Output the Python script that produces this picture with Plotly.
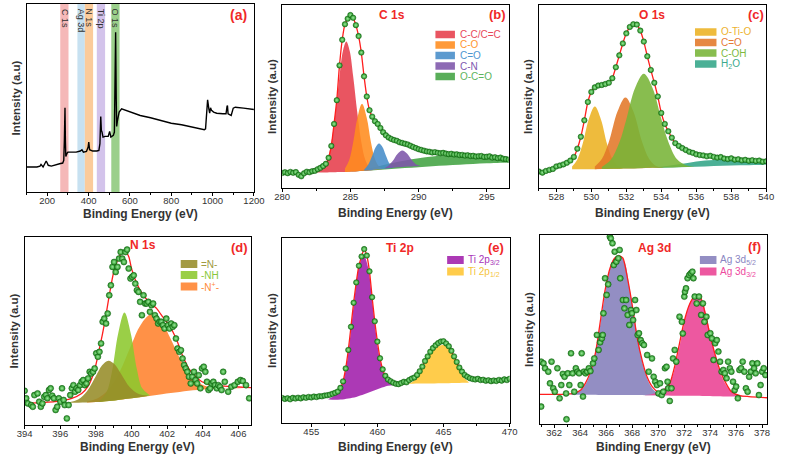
import plotly.graph_objects as go

W, H = 787, 455

# ---------------- (a) survey ----------------
survey_be = [100,150,165,170,180,190,195,200,205,220,240,260,275,280,283,286,288,290,295,300,320,340,360,368,375,390,398,401,405,420,440,450,455,459,462,465,470,480,495,502,508,520,525,528,531,534,536,540,548,560,580,600,650,700,750,800,850,900,940,960,966,972,976,982,986,990,995,1005,1020,1050,1065,1070,1072,1075,1090,1100,1110,1150,1180,1200]
survey_int = [13.3,13.3,13.8,14.7,13.3,15.0,16.5,15.4,14.2,13.8,14.2,15.0,15.4,16.8,27.4,44.8,27.4,18.9,20.4,21.2,21.2,21.2,21.8,22.5,21.2,21.6,23.9,26.5,22.5,21.8,21.8,22.1,25.7,40.2,32.7,31.9,29.2,29.6,29.6,32.2,29.2,30.1,31.9,48.7,85.0,48.7,34.9,38.1,42.5,44.2,43.4,42.5,40.7,39.5,38.1,36.6,35.8,34.5,33.6,33.1,33.6,43.4,49.0,44.2,41.9,44.8,43.4,42.5,41.9,41.6,41.6,45.5,46.0,41.6,40.7,44.6,45.1,44.6,44.2,43.9]
band_names = ["C 1s", "Ag 3d", "N 1s", "Ti 2p", "O 1s"]
band_lo = [263, 346, 382, 440, 510]
band_hi = [303, 382, 422, 480, 550]
band_colors = ["rgba(242,160,160,0.75)", "rgba(185,218,238,0.8)", "rgba(250,190,130,0.8)",
               "rgba(200,180,230,0.8)", "rgba(130,195,110,0.8)"]

# ---------------- (b) C 1s ----------------
c1s_be = [280.0,280.2,280.4,280.6,280.8,281.0,281.2,281.4,281.6,281.8,282.0,282.2,282.4,282.6,282.8,283.0,283.2,283.4,283.6,283.8,284.0,284.2,284.4,284.6,284.8,285.0,285.2,285.4,285.6,285.8,286.0,286.2,286.4,286.6,286.8,287.0,287.2,287.4,287.6,287.8,288.0,288.2,288.4,288.6,288.8,289.0,289.2,289.4,289.6,289.8,290.0,290.2,290.4,290.6,290.8,291.0,291.2,291.4,291.6,291.8,292.0,292.2,292.4,292.6,292.8,293.0,293.2,293.4,293.6,293.8,294.0,294.2,294.4,294.6,294.8,295.0,295.2,295.4,295.6,295.8,296.0,296.2,296.4,296.6,296.8]
c1s_int = [8.2,8.6,8.1,8.8,8.3,8.7,7.2,6.4,8.0,8.9,8.6,9.2,9.4,10.3,11.0,12.0,13.2,16.5,23.0,35.0,48.0,67.0,81.0,89.5,92.5,94.5,93.0,89.0,83.0,74.0,61.0,50.0,42.5,39.0,36.5,35.0,32.8,30.5,28.8,27.6,26.8,26.2,25.8,25.0,24.6,24.2,23.8,23.1,22.4,21.8,21.2,20.8,20.4,20.0,19.8,19.4,19.6,19.2,19.0,19.2,18.8,18.5,18.7,18.3,18.4,18.0,18.1,17.7,17.9,17.5,17.6,17.2,17.4,17.5,17.0,17.1,17.3,16.6,16.8,16.3,16.6,16.0,15.8,15.5,15.4]
c1s_cc_be = [282.4,282.7,283.0,283.3,283.6,283.9,284.2,284.45,284.7,284.95,285.2,285.5,285.8,286.1,286.4,286.7]
c1s_cc_top = [8.6,9.2,10.6,15.1,24.9,41.3,61.1,74.8,80.0,74.8,61.2,41.5,25.2,15.3,11.3,9.9]
c1s_cc_base = [8.5,8.5,8.5,8.5,8.6,8.6,8.7,8.7,8.8,8.9,9.0,9.2,9.4,9.5,9.7,9.9]
c1s_co_be = [284.6,284.9,285.2,285.5,285.85,286.2,286.5,286.8,287.1,287.4]
c1s_co_top = [10.6,15.0,24.9,37.9,46.0,38.3,25.3,15.8,11.7,10.4]
c1s_co_base = [8.8,8.9,9.0,9.2,9.4,9.6,9.8,10.0,10.2,10.4]
c1s_cdo_be = [286.0,286.3,286.6,286.85,287.1,287.35,287.6,287.9,288.2]
c1s_cdo_top = [10.0,12.7,17.6,22.3,24.3,22.4,17.8,13.0,11.0]
c1s_cdo_base = [9.5,9.7,9.9,10.1,10.2,10.4,10.6,10.8,11.0]
c1s_cn_be = [287.5,287.8,288.1,288.45,288.8,289.15,289.5,289.8,290.1]
c1s_cn_top = [10.8,12.3,14.7,18.6,20.5,18.9,15.3,13.0,12.1]
c1s_cn_base = [10.7,10.9,11.1,11.3,11.5,11.7,11.8,11.9,12.0]
c1s_oco_be = [284.0,285.0,286.0,287.0,288.0,289.0,290.0,291.0,292.0,293.0,294.0,295.0,296.0,296.6]
c1s_oco_top = [8.6,9.2,10.3,11.8,13.5,15.0,16.3,17.2,17.7,17.9,17.6,17.1,16.4,15.9]
c1s_oco_base = [8.6,9.0,9.4,9.9,10.4,10.9,11.4,11.9,12.3,12.7,13.1,13.5,13.8,14.0]
c1s_names = ["C-C/C=C", "C-O", "C=O", "C-N", "O-C=O"]

# ---------------- (c) O 1s ----------------
o1s_be = [527.0,527.2,527.4,527.6,527.8,528.0,528.2,528.4,528.6,528.8,529.0,529.2,529.4,529.6,529.8,530.0,530.2,530.4,530.6,530.8,531.0,531.2,531.4,531.6,531.8,532.0,532.2,532.4,532.6,532.8,533.0,533.2,533.4,533.6,533.8,534.0,534.2,534.4,534.6,534.8,535.0,535.2,535.4,535.6,535.8,536.0,536.2,536.4,536.6,536.8,537.0,537.2,537.4,537.6,537.8,538.0,538.2,538.4,538.6,538.8,539.0,539.2,539.4,539.6,539.8,540.0]
o1s_int = [9.0,8.4,9.3,9.9,10.4,11.8,12.3,12.9,13.8,15.0,17.0,21.5,28.0,37.0,47.0,52.5,55.0,56.0,56.3,56.8,57.5,60.0,66.0,72.5,79.0,84.5,88.0,89.5,89.3,86.0,80.0,72.0,64.5,57.5,50.0,41.0,35.0,31.0,27.5,24.5,23.0,21.8,20.8,19.8,19.2,18.4,18.0,17.8,17.3,17.6,17.0,16.6,16.9,16.1,15.8,16.2,15.5,15.7,15.1,15.4,14.9,15.2,14.8,15.0,14.4,14.6]
o1s_otio_be = [528.9,529.2,529.5,529.85,530.2,530.55,530.9,531.2,531.5,531.8]
o1s_otio_top = [11.7,15.6,24.0,37.5,44.5,37.5,24.0,15.8,11.9,10.8]
o1s_otio_base = [10.2,10.2,10.2,10.3,10.3,10.4,10.4,10.5,10.5,10.6]
o1s_cdo_be = [530.2,530.6,531.0,531.5,531.95,532.4,532.9,533.3,533.7,534.1]
o1s_cdo_top = [11.7,15.8,25.1,41.9,49.5,42.0,25.3,16.0,12.0,11.2]
o1s_cdo_base = [10.3,10.4,10.4,10.5,10.6,10.7,10.8,10.9,11.0,11.1]
o1s_coh_be = [530.6,531.1,531.6,532.0,532.5,533.0,533.5,534.0,534.4,534.9,535.4,535.9]
o1s_coh_top = [11.5,15.3,24.9,37.5,54.6,62.4,54.7,37.8,25.3,15.7,12.5,11.8]
o1s_coh_base = [10.4,10.5,10.5,10.6,10.7,10.9,11.0,11.1,11.2,11.4,11.5,11.7]
o1s_h2o_be = [533.5,534.5,535.5,536.5,537.5,538.5,539.5,540.0]
o1s_h2o_top = [11.1,12.3,13.7,15.0,15.6,15.4,15.0,14.8]
o1s_h2o_base = [11.0,11.2,11.5,11.8,12.1,12.4,12.6,12.8]
o1s_names = ["O-Ti-O", "C=O", "C-OH", "H<sub>2</sub>O"]

# ---------------- (d) N 1s ----------------
n1s_be = [394.00,394.09,394.18,394.37,394.46,394.55,394.73,394.82,394.91,395.00,395.10,395.19,395.28,395.37,395.46,395.55,395.64,395.74,395.83,395.92,396.01,396.10,396.19,396.25,396.37,396.47,396.56,396.65,396.74,396.83,396.92,397.01,397.11,397.20,397.29,397.38,397.47,397.56,397.65,397.74,397.84,397.93,398.02,398.11,398.20,398.29,398.38,398.47,398.57,398.66,398.75,398.84,398.93,399.02,399.11,399.21,399.30,399.39,399.48,399.57,399.66,399.75,399.84,399.94,400.03,400.12,400.21,400.30,400.39,400.48,400.58,400.67,400.76,400.85,400.94,401.03,401.12,401.21,401.31,401.40,401.49,401.58,401.67,401.76,401.85,401.95,402.04,402.13,402.22,402.31,402.40,402.49,402.58,402.68,402.77,402.86,402.95,403.04,403.13,403.22,403.32,403.41,403.50,403.59,403.68,403.77,403.86,403.95,404.05,404.14,404.23,404.32,404.41,404.50,404.59,404.68,404.78,404.87,404.96,405.05,405.14,405.23,405.42,405.60,405.78,405.96,406.11,406.24,406.42,406.60]
n1s_int = [18.2,14.2,11.5,10.6,9.7,15.9,16.8,12.4,9.7,11.5,15.0,15.9,14.2,18.6,19.5,15.6,14.2,8.0,9.7,14.2,12.4,19.5,13.3,10.6,3.5,10.6,15.9,19.5,21.2,17.7,19.5,18.6,21.2,23.0,23.9,21.2,22.1,24.8,28.3,27.4,28.3,30.1,38.1,36.3,38.9,43.4,54.9,56.6,54.0,59.3,69.0,74.3,84.1,86.7,81.4,84.1,88.5,92.0,88.5,86.7,92.0,93.3,83.2,77.9,78.8,79.6,75.2,71.7,70.8,65.5,58.4,69.0,64.6,64.6,65.5,60.2,63.7,64.6,58.4,56.6,54.0,54.9,54.9,53.1,51.3,56.6,53.1,51.3,54.0,52.2,53.1,46.0,40.7,38.9,39.8,35.4,31.9,30.1,28.3,25.7,22.1,25.7,28.3,23.9,22.1,26.5,19.5,30.1,31.0,28.3,23.0,18.6,19.5,22.1,23.0,21.2,19.5,21.2,20.4,18.6,28.3,23.0,17.7,20.4,21.2,23.0,23.9,23.4,21.2,14.2]
n1s_fit_be = [394.0,395.7,396.65,397.2,397.55,397.9,398.2,398.5,398.75,399.0,399.3,399.5,399.65,399.85,400.0,400.3,400.65,401.0,401.4,401.75,402.1,402.5,402.85,403.2,403.6,403.95,404.5,405.2,406.0,407.0]
n1s_fit_int = [11.5,12.4,14.2,16.8,20.4,28.3,40.7,54.9,69.0,81.4,89.4,92.0,92.4,89.4,83.2,75.2,69.0,65.5,62.0,57.5,53.1,46.0,37.2,30.1,25.7,23.0,21.2,20.7,20.2,19.8]
n1s_imine_be = [396.5,397.0,397.5,398.0,398.35,398.7,399.05,399.4,399.9,400.4,400.9]
n1s_imine_top = [12.1,13.6,18.0,26.1,31.8,34.2,32.3,27.4,20.1,16.5,15.7]
n1s_imine_base = [11.8,11.9,12.0,12.2,12.4,12.7,13.0,13.5,14.1,14.8,15.4]
n1s_amine_be = [398.2,398.6,398.9,399.25,399.6,399.95,400.3,400.6,401.0]
n1s_amine_top = [12.9,17.6,28.3,48.7,59.8,49.0,29.7,19.5,16.0]
n1s_amine_base = [12.3,12.6,12.9,13.3,13.8,14.2,14.6,15.0,15.5]
n1s_cation_be = [397.5,398.0,398.5,399.0,399.5,400.0,400.5,401.1,401.7,402.2,402.7,403.2,403.7,404.2,404.7,405.5,406.5,407.0]
n1s_cation_top = [12.5,13.8,16.9,22.6,31.7,42.9,53.1,58.9,54.7,45.7,35.7,27.8,22.9,20.6,19.7,19.6,19.8,19.9]
n1s_cation_base = [12.0,12.2,12.6,13.0,13.6,14.2,14.8,15.6,16.4,17.0,17.6,18.2,18.6,19.0,19.2,19.5,19.7,19.8]
n1s_names = ["=N-", "-NH", "-N<sup>+</sup>-"]

# ---------------- (e) Ti 2p ----------------
ti_be = [452.8,453.0,453.2,453.4,453.6,453.8,454.0,454.2,454.4,454.6,454.8,455.0,455.2,455.4,455.6,455.8,456.0,456.2,456.4,456.6,456.8,457.0,457.2,457.4,457.6,457.8,458.0,458.2,458.4,458.6,458.8,459.0,459.2,459.4,459.6,459.8,460.0,460.2,460.4,460.6,460.8,461.0,461.2,461.4,461.6,461.8,462.0,462.2,462.4,462.6,462.8,463.0,463.2,463.4,463.6,463.8,464.0,464.2,464.4,464.6,464.8,465.0,465.2,465.4,465.6,465.8,466.0,466.2,466.4,466.6,466.8,467.0,467.2,467.4,467.6,467.8,468.0,468.2,468.4,468.6,468.8,469.0,469.2,469.4,469.6,469.8,470.0]
ti_int = [13.5,13.0,13.4,12.8,13.6,13.2,13.7,13.3,13.9,13.6,14.1,13.8,14.3,14.0,14.5,14.4,14.8,15.0,15.3,15.8,16.3,17.0,19.0,22.5,29.5,39.5,52.0,65.0,76.0,85.0,90.0,94.0,90.5,82.0,68.0,55.0,44.0,35.0,29.0,25.5,23.5,22.6,21.8,21.2,21.0,21.6,22.3,22.0,23.2,24.0,24.6,26.0,28.0,30.5,33.5,36.0,38.5,40.5,42.0,43.2,44.0,44.2,43.0,41.5,39.0,36.0,33.0,30.0,27.8,26.0,25.0,24.2,23.8,23.5,23.9,23.2,23.4,22.8,23.1,22.6,23.0,22.7,23.3,22.9,23.6,23.2,23.9]
ti_p32_be = [456.3,456.8,457.2,457.5,457.8,458.1,458.4,458.7,459.0,459.3,459.6,459.9,460.2,460.5,460.8,461.2,461.6,462.0]
ti_p32_top = [13.0,15.0,18.5,25.0,38.0,57.0,75.0,87.0,89.8,84.0,67.0,48.0,34.0,26.5,23.2,21.6,21.2,21.2]
ti_p32_base = [12.7,12.6,12.7,12.9,13.2,13.6,14.1,14.8,15.5,16.3,17.1,18.0,18.8,19.5,20.1,20.6,20.9,21.1]
ti_p12_be = [462.3,462.7,463.1,463.5,463.9,464.3,464.9,465.4,465.8,466.2,466.6,466.9]
ti_p12_top = [21.3,22.5,25.5,30.5,36.0,40.0,42.2,41.0,36.0,29.5,24.0,22.2]
ti_p12_base = [21.2,21.2,21.3,21.3,21.4,21.4,21.5,21.5,21.6,21.6,21.7,21.7]
ti_names = ["Ti 2p<sub>3/2</sub>", "Ti 2p<sub>1/2</sub>"]

# ---------------- (f) Ag 3d ----------------
ag_be = [361.00,361.00,361.18,361.30,361.55,361.68,361.80,361.93,362.05,362.25,362.42,362.55,362.67,362.80,362.92,362.95,363.05,363.17,363.30,363.42,363.55,363.67,363.80,363.92,364.04,364.12,364.22,364.29,364.42,364.54,364.67,364.79,364.99,365.09,365.29,365.42,365.54,365.67,365.74,365.79,365.92,366.04,366.16,366.29,366.36,366.49,366.59,366.66,366.79,366.94,367.04,367.09,367.29,367.41,367.54,367.66,367.79,367.91,367.99,368.08,368.23,368.33,368.43,368.53,368.66,368.78,368.91,369.16,369.28,369.53,369.66,369.78,369.91,370.03,370.15,370.28,370.40,370.53,370.65,370.73,370.78,370.90,371.03,371.15,371.28,371.40,371.65,371.83,371.90,372.02,372.07,372.15,372.27,372.40,372.52,372.64,372.72,372.82,372.97,373.15,373.32,373.45,373.57,373.72,373.82,374.02,374.14,374.27,374.39,374.52,374.64,374.77,374.89,375.02,375.14,375.27,375.39,375.52,375.64,375.77,375.89,376.01,376.14,376.26,376.39,376.51,376.64,376.76,376.89,377.01,377.14,377.26,377.39,377.51,377.64,377.76,377.89,378.01,378.13,378.26]
ag_int = [33.0,9.2,32.1,29.5,27.7,21.5,33.0,18.9,17.1,29.5,13.6,20.6,26.5,25.0,16.2,2.5,26.8,20.6,37.4,26.8,17.1,29.5,27.7,26.8,20.6,37.4,14.5,27.7,26.8,27.7,29.5,28.0,32.1,34.7,47.1,39.2,43.2,45.3,47.1,58.6,77.1,68.3,73.9,99.1,98.2,95.6,84.1,91.2,85.9,87.7,92.1,77.1,65.6,61.2,65.6,57.7,52.4,60.3,58.6,55.0,65.6,60.3,47.1,48.0,44.4,42.7,41.8,36.5,27.7,34.7,25.0,22.4,20.6,16.2,21.5,15.3,17.1,29.5,30.3,22.4,18.9,12.2,18.9,34.7,39.2,33.0,56.8,54.1,47.9,67.4,70.0,71.8,77.1,78.8,79.7,80.6,77.1,67.4,63.8,67.4,57.7,63.8,54.1,56.8,47.1,48.0,45.3,33.9,42.7,44.4,38.3,33.0,27.7,28.6,26.8,24.2,33.0,29.5,27.7,22.4,17.9,19.8,13.6,28.6,29.5,33.0,27.7,18.9,17.1,25.0,27.7,32.1,29.5,26.8,32.1,15.3,20.6,27.7,29.5,25.9]
ag_fit_be = [360.9,362.8,363.5,364.05,364.4,364.8,365.2,365.55,365.9,366.3,366.65,367.0,367.3,367.65,368.05,368.4,368.8,369.15,369.55,370.0,370.5,370.9,371.3,371.65,372.0,372.4,372.8,373.0,373.3,373.65,374.0,374.4,374.8,375.3,375.65,376.3,377.0,378.4]
ag_fit_int = [15.7,15.7,16.2,18.0,21.5,27.7,38.3,54.1,70.0,82.4,87.7,89.0,87.7,77.0,61.2,45.3,33.0,25.0,19.8,17.1,18.0,21.5,31.2,42.7,54.1,63.0,67.4,67.9,66.5,57.7,47.1,36.5,27.7,20.6,17.1,15.0,14.5,13.9]
ag_d52_be = [363.3,363.8,364.2,364.6,365.0,365.4,365.8,366.2,366.6,367.0,367.4,367.8,368.2,368.6,369.0,369.4,369.8,370.2,370.6]
ag_d52_top = [15.8,16.8,18.8,23.5,32.0,46.0,64.0,79.5,87.5,89.0,86.0,72.0,55.0,39.0,27.5,20.5,17.0,15.7,15.3]
ag_d52_base = [15.5,15.5,15.5,15.5,15.5,15.4,15.4,15.4,15.4,15.4,15.3,15.3,15.3,15.3,15.2,15.2,15.2,15.2,15.2]
ag_d32_be = [369.0,369.5,370.0,370.5,371.0,371.4,371.8,372.2,372.6,373.0,373.4,373.8,374.2,374.6,375.0,375.4,375.8,376.3,376.8,377.2]
ag_d32_top = [15.3,15.8,16.8,19.0,23.5,33.0,46.0,59.0,66.0,67.9,65.0,55.0,42.0,31.0,23.5,19.0,16.5,15.1,14.7,14.5]
ag_d32_base = [15.2,15.2,15.1,15.1,15.0,15.0,15.0,14.9,14.9,14.9,14.8,14.8,14.7,14.7,14.6,14.6,14.5,14.5,14.4,14.4]
ag_names = ["Ag 3d<sub>5/2</sub>", "Ag 3d<sub>3/2</sub>"]

# ---------------- styling ----------------
FONT = "Liberation Sans Narrow, Arial Narrow, Liberation Sans, Arial, sans-serif"
RED = "#F02828"
FIT = "#FF1E1E"
DOT = "#1E8C1E"

def px(x):
    return x / W

def py(y):
    return 1 - y / H

fig = go.Figure()

def comp(ax, be, top, base, color):
    xa, ya = "x" + ax, "y" + ax
    fig.add_trace(go.Scatter(x=be, y=base, xaxis=xa, yaxis=ya, mode="lines",
                             line=dict(width=0, shape="spline"), showlegend=False, hoverinfo="skip"))
    fig.add_trace(go.Scatter(x=be, y=top, xaxis=xa, yaxis=ya, mode="lines",
                             line=dict(width=0, shape="spline"), fill="tonexty", fillcolor=color,
                             showlegend=False, hoverinfo="skip"))

def fitline(ax, be, val):
    fig.add_trace(go.Scatter(x=be, y=val, xaxis="x" + ax, yaxis="y" + ax, mode="lines",
                             line=dict(width=1.3, color=FIT, shape="spline", smoothing=0.6),
                             showlegend=False, hoverinfo="skip"))

def dots(ax, be, val, size):
    fig.add_trace(go.Scatter(x=be, y=val, xaxis="x" + ax, yaxis="y" + ax, mode="markers",
                             marker=dict(size=size, color=DOT,
                                         line=dict(color="#0F5A0F", width=0.5),
                                         gradient=dict(type="radial", color="#9BEA9B")),
                             showlegend=False, hoverinfo="skip"))

# (a)
fig.add_trace(go.Scatter(x=survey_be, y=survey_int, xaxis="x", yaxis="y", mode="lines",
                         line=dict(color="black", width=1.4), showlegend=False))

# (b)
C1S_COL = ["rgba(230,62,75,0.88)", "rgba(255,140,30,0.88)", "rgba(70,140,200,0.88)",
           "rgba(125,85,170,0.88)", "rgba(60,160,60,0.85)"]
C1S_TXT = ["#E8485A", "#FF9430", "#4E96D0", "#7E57B0", "#5DB55D"]
comp("2", c1s_oco_be, c1s_oco_top, c1s_oco_base, C1S_COL[4])
comp("2", c1s_cc_be, c1s_cc_top, c1s_cc_base, C1S_COL[0])
comp("2", c1s_co_be, c1s_co_top, c1s_co_base, C1S_COL[1])
comp("2", c1s_cdo_be, c1s_cdo_top, c1s_cdo_base, C1S_COL[2])
comp("2", c1s_cn_be, c1s_cn_top, c1s_cn_base, C1S_COL[3])
fitline("2", c1s_be, c1s_int)
dots("2", c1s_be, c1s_int, 5.5)

# (c)
O1S_COL = ["rgba(236,180,40,0.9)", "rgba(226,120,40,0.88)", "rgba(120,180,55,0.88)", "rgba(50,165,135,0.88)"]
O1S_TXT = ["#EDB22E", "#E67A35", "#7DBA3F", "#3AAA8C"]
comp("3", o1s_h2o_be, o1s_h2o_top, o1s_h2o_base, O1S_COL[3])
comp("3", o1s_otio_be, o1s_otio_top, o1s_otio_base, O1S_COL[0])
comp("3", o1s_cdo_be, o1s_cdo_top, o1s_cdo_base, O1S_COL[1])
comp("3", o1s_coh_be, o1s_coh_top, o1s_coh_base, O1S_COL[2])
fitline("3", o1s_be, o1s_int)
dots("3", o1s_be, o1s_int, 5.5)

# (d)
N1S_COL = ["rgba(150,140,40,0.88)", "rgba(140,200,45,0.88)", "rgba(255,130,45,0.88)"]
N1S_TXT = ["#A09A40", "#88C83A", "#FF8A3A"]
comp("4", n1s_cation_be, n1s_cation_top, n1s_cation_base, N1S_COL[2])
comp("4", n1s_amine_be, n1s_amine_top, n1s_amine_base, N1S_COL[1])
comp("4", n1s_imine_be, n1s_imine_top, n1s_imine_base, N1S_COL[0])
fitline("4", n1s_fit_be, n1s_fit_int)
dots("4", n1s_be, n1s_int, 6)

# (e)
TI_COL = ["rgba(165,40,175,0.92)", "rgba(255,200,60,0.92)"]
TI_TXT = ["#A832B8", "#F5C43A"]
comp("5", ti_p32_be, ti_p32_top, ti_p32_base, TI_COL[0])
comp("5", ti_p12_be, ti_p12_top, ti_p12_base, TI_COL[1])
fitline("5", ti_be, ti_int)
dots("5", ti_be, ti_int, 5.5)

# (f)
AG_COL = ["rgba(135,130,188,0.9)", "rgba(235,70,150,0.9)"]
AG_TXT = ["#8A86C2", "#EE4A9E"]
comp("6", ag_d52_be, ag_d52_top, ag_d52_base, AG_COL[0])
comp("6", ag_d32_be, ag_d32_top, ag_d32_base, AG_COL[1])
fitline("6", ag_fit_be, ag_fit_int)
dots("6", ag_be, ag_int, 6)

# ---------------- axes ----------------
TICKF = dict(family=FONT, size=9.5, color="#333333")
TITLEF = dict(family=FONT, size=12, color="#333333", weight="bold")

def xax(x0, x1, rng, tick0, dtick, minor, anchor):
    return dict(domain=[px(x0), px(x1)], range=rng, anchor=anchor,
                showline=True, mirror=True, linecolor="black", linewidth=1,
                ticks="outside", ticklen=3, tickwidth=1, tickcolor="black",
                tick0=tick0, dtick=dtick, ticklabelstandoff=-3,
                minor=dict(dtick=minor, ticks="outside", ticklen=2, tickcolor="black"),
                showgrid=False, zeroline=False, tickfont=TICKF)

def yax(y0, y1, anchor):
    return dict(domain=[py(y1), py(y0)], range=[0, 100], anchor=anchor,
                showline=True, mirror=True, linecolor="black", linewidth=1,
                ticks="", showticklabels=False, showgrid=False, zeroline=False,
                title=dict(text="Intensity (a.u)",
                           font=dict(family=FONT, size=11.5, color="#333333", weight="bold"),
                           standoff=2))

fig.update_layout(
    xaxis=xax(19, 252, [100, 1200], 200, 200, 100, "y"),
    yaxis=yax(4, 192, "x"),
    xaxis2=xax(281, 513, [280, 296.6], 280, 5, 2.5, "y2"),
    yaxis2=yax(5, 188, "x2"),
    xaxis3=xax(544, 777, [527, 540], 528, 2, 1, "y3"),
    yaxis3=yax(5, 188, "x3"),
    xaxis4=xax(17, 249, [394, 406.7], 394, 2, 1, "y4"),
    yaxis4=yax(237, 425, "x4"),
    xaxis5=xax(281, 514, [452.8, 470], 455, 5, 2.5, "y5"),
    yaxis5=yax(238, 423, "x5"),
    xaxis6=xax(545, 778, [360.9, 378.4], 362, 2, 1, "y6"),
    yaxis6=yax(235, 424, "x6"),
)

shapes = []
annots = []

# x-axis titles
for ax, ty in [("x", 214), ("x2", 213), ("x3", 213), ("x4", 447), ("x5", 447), ("x6", 447)]:
    annots.append(dict(xref=ax + " domain", yref="paper", x=0.5, y=py(ty), text="Binding Energy (eV)",
                       showarrow=False, xanchor="center", yanchor="middle", font=TITLEF))

# survey bands
for lo, hi, col, name in zip(band_lo, band_hi, band_colors, band_names):
    shapes.append(dict(type="rect", xref="x", yref="y domain", x0=lo, x1=hi, y0=0, y1=1,
                       fillcolor=col, line=dict(width=0), layer="below"))
    annots.append(dict(xref="x", yref="y domain", x=(lo + hi) / 2, y=0.985, text=name,
                       textangle=90, showarrow=False, xanchor="center", yanchor="top",
                       font=dict(family=FONT, size=9, color="#333333")))

def legend(x0, x1, rows, h, names, cols, txtcols, tx):
    for yc, nm, c, tc in zip(rows, names, cols, txtcols):
        shapes.append(dict(type="rect", xref="paper", yref="paper", x0=px(x0), x1=px(x1),
                           y0=py(yc + h / 2), y1=py(yc - h / 2), fillcolor=c, line=dict(width=0)))
        annots.append(dict(xref="paper", yref="paper", x=px(tx), y=py(yc), text=nm, showarrow=False,
                           xanchor="left", yanchor="middle",
                           font=dict(family=FONT, size=10, color=tc)))

legend(438, 458, [34.5, 45, 55.5, 66, 76.5], 7.5, c1s_names, C1S_COL, C1S_TXT, 461)
legend(704, 726, [32, 42.5, 53, 64], 7.5, o1s_names, O1S_COL, O1S_TXT, 729)
legend(177, 194, [264, 275, 286.5], 8, n1s_names, N1S_COL, N1S_TXT, 196)
legend(450, 467, [260, 271.5], 8, ti_names, TI_COL, TI_TXT, 469)
legend(709, 726, [260, 271.5], 8, ag_names, AG_COL, AG_TXT, 728)

def label(x, y, text, size):
    annots.append(dict(xref="paper", yref="paper", x=px(x), y=py(y), text=text, showarrow=False,
                       xanchor="center", yanchor="middle",
                       font=dict(family=FONT, size=size, color=RED, weight="bold")))

label(236, 15, "(a)", 14)
label(393, 15, "C 1s", 12)
label(502, 15, "(b)", 13)
label(660, 15, "O 1s", 12)
label(767, 14, "(c)", 13)
label(138, 245, "N 1s", 12)
label(237, 248, "(d)", 13)
label(402, 248, "Ti 2p", 12)
label(500, 248, "(e)", 13)
label(663, 248, "Ag 3d", 12)
label(765, 247, "(f)", 13)

fig.update_layout(shapes=shapes, annotations=annots, width=W, height=H,
                  margin=dict(l=0, r=0, t=0, b=0), paper_bgcolor="white", plot_bgcolor="white",
                  showlegend=False, font=dict(family=FONT))

fig.write_html("out.html", config={"displayModeBar": False},
               post_script="document.body.style.margin='0';")
